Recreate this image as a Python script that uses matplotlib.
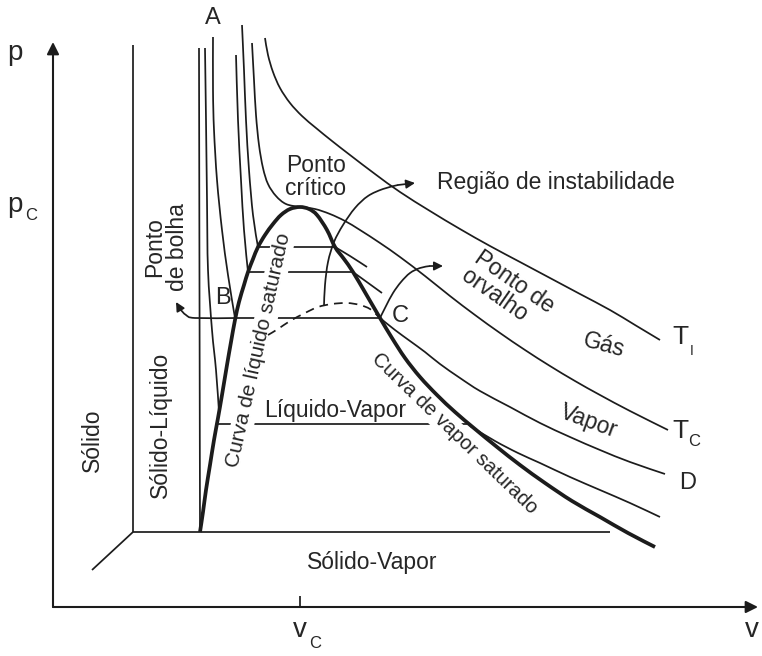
import matplotlib
matplotlib.use("Agg")
import matplotlib.pyplot as plt
import numpy as np
from matplotlib.path import Path
from matplotlib.patches import PathPatch

plt.rcParams['font.family'] = ['Liberation Sans', 'DejaVu Sans']

# ---------------- data (pixel-space schematic, y downward) ----------------
dome_x = [200, 203, 206, 210, 214, 218, 222, 227, 231, 235, 239, 244, 248, 253, 258, 265, 273, 281, 290, 300,
          309, 317, 327, 335, 344, 353, 366, 380, 392, 405, 420, 437, 455, 475, 497, 520, 545, 572, 600, 628, 655]
dome_y = [532, 512, 490, 465, 440, 418, 395, 365, 342, 320, 302, 285, 272, 259, 247, 235, 224, 215, 209, 207,
          209, 215, 230, 247, 259, 272, 294, 318, 338, 358, 377, 395, 412, 429, 447, 465, 483, 501, 517, 533, 547]

ti_x = [265, 268, 273, 280, 290, 302, 316, 332, 350, 375, 400, 430, 460, 490, 520, 550, 580, 610, 635, 660]
ti_y = [38, 55, 72, 88, 103, 116, 128, 141, 155, 174, 192, 211, 229, 246, 262, 278, 294, 310, 325, 340]

tc_x = [252, 254, 256, 259, 263, 268, 276, 286, 300, 315, 330, 345, 360, 380, 400, 425, 450, 475, 500, 525,
        550, 575, 600, 630, 668]
tc_y = [43, 80, 115, 145, 168, 184, 196, 204, 207, 209, 214, 221, 230, 243, 257, 276, 296, 315, 333, 350,
        366, 381, 395, 411, 430]

# isotherm with tie line at p ~ 247
i247_liq_x = [242, 244, 246, 249, 253, 258]
i247_liq_y = [25, 70, 120, 170, 215, 247]
i247_tie_x = [258, 335]
i247_tie_y = [247, 247]
i247_vap_x = [335, 350, 367]
i247_vap_y = [247, 256, 267]

# isotherm with tie line at p ~ 272
i272_liq_x = [236, 238, 241, 244, 248]
i272_liq_y = [55, 120, 180, 230, 272]
i272_tie_x = [248, 353]
i272_tie_y = [272, 272]
i272_vap_x = [353, 382]
i272_vap_y = [272, 293]

# isotherm B - C - D
ibc_liq_x = [213, 213, 214, 217, 222, 228, 235]
ibc_liq_y = [37, 90, 130, 180, 230, 275, 318]
ibc_tie_x = [235, 380]
ibc_tie_y = [318, 318]
ibc_vap_x = [380, 395, 410, 425, 440, 460, 480, 510, 540, 570, 600, 630, 665]
ibc_vap_y = [318, 330, 341, 352, 364, 378, 391, 407, 423, 437, 450, 462, 474]

# lowest isotherm (Liquido-Vapor)
ilv_liq_x = [205, 206, 207, 208, 212, 216, 219]
ilv_liq_y = [48, 120, 200, 270, 330, 370, 412]
ilv_tie_x = [217, 467]
ilv_tie_y = [424, 424]
ilv_vap_x = [470, 495, 518, 540, 570, 600, 630, 660]
ilv_vap_y = [426, 441, 453, 463, 477, 490, 503, 517]

# solid boundaries
sl_x = [199, 200]
sl_y = [48, 532]
solid_left_x = [133, 133]
solid_left_y = [45, 532]
solid_base_x = [133, 610]
solid_base_y = [532, 532]
solid_diag_x = [133, 92]
solid_diag_y = [532, 570]

# instability (spinodal) dashed curve
spin_x = [268, 278, 290, 305, 318, 332, 347, 360, 370, 378]
spin_y = [335, 329, 321, 313, 307, 304, 303, 305, 309, 316]

# pointer arrows
arr_inst_x = [324, 325, 328, 334, 343, 355, 368, 383, 398, 415]
arr_inst_y = [306, 285, 262, 242, 225, 208, 196, 189, 185, 183]
arr_orv_x = [380, 386, 393, 401, 410, 420, 430, 443]
arr_orv_y = [318, 306, 293, 282, 273, 268, 266, 266]
arr_bol_x = [237, 195, 186, 180, 176]
arr_bol_y = [318, 318, 315, 309, 302]

# axes
axis_origin = (53, 607)
axis_ytip = (53, 42)
axis_xtip = (758, 607)
vc_tick_x = [300, 300]
vc_tick_y = [596, 607]

# ---------------- figure ----------------
fig = plt.figure(figsize=(7.62, 6.56), dpi=100)
ax = fig.add_axes([0, 0, 1, 1])
ax.set_xlim(0, 762)
ax.set_ylim(656, 0)
ax.axis('off')

K = '#1c1c1c'
thin = 1.25


def smooth(xs, ys, lw=thin, z=3, ls='-', capstyle='butt'):
    """Draw a smooth curve through the given points (Catmull-Rom as cubic Bezier)."""
    P = np.column_stack([xs, ys]).astype(float)
    n = len(P)
    if n == 2:
        verts = [P[0], P[1]]
        codes = [Path.MOVETO, Path.LINETO]
    else:
        verts = [P[0]]
        codes = [Path.MOVETO]
        for i in range(n - 1):
            p0 = P[i - 1] if i > 0 else P[i]
            p1 = P[i]
            p2 = P[i + 1]
            p3 = P[i + 2] if i + 2 < n else P[i + 1]
            c1 = p1 + (p2 - p0) / 6.0
            c2 = p2 - (p3 - p1) / 6.0
            verts += [c1, c2, p2]
            codes += [Path.CURVE4] * 3
    patch = PathPatch(Path(verts, codes), facecolor='none', edgecolor=K, lw=lw,
                      ls=ls, zorder=z, capstyle=capstyle, joinstyle='round')
    ax.add_patch(patch)


# tie lines (interrupted by text boxes)
for tx, ty in [(i247_tie_x, i247_tie_y), (i272_tie_x, i272_tie_y),
               (ibc_tie_x, ibc_tie_y), (ilv_tie_x, ilv_tie_y)]:
    smooth(tx, ty, z=1)

for lx, ly in [(ti_x, ti_y), (tc_x, tc_y),
               (i247_liq_x, i247_liq_y), (i247_vap_x, i247_vap_y),
               (i272_liq_x, i272_liq_y), (i272_vap_x, i272_vap_y),
               (ibc_liq_x, ibc_liq_y), (ibc_vap_x, ibc_vap_y),
               (ilv_liq_x, ilv_liq_y), (ilv_vap_x, ilv_vap_y),
               (sl_x, sl_y), (solid_left_x, solid_left_y),
               (solid_base_x, solid_base_y), (solid_diag_x, solid_diag_y),
               (vc_tick_x, vc_tick_y)]:
    smooth(lx, ly)

smooth(spin_x, spin_y, ls=(0, (5, 3.5)))

# saturation dome
smooth(dome_x, dome_y, lw=2.7, z=5)

# pointer arrows
for axx, ayy in [(arr_inst_x, arr_inst_y), (arr_orv_x, arr_orv_y), (arr_bol_x, arr_bol_y)]:
    smooth(axx[:-1], ayy[:-1])
    ax.annotate('', xy=(axx[-1], ayy[-1]), xytext=(axx[-2], ayy[-2]),
                arrowprops=dict(arrowstyle='-|>', color=K, lw=thin, mutation_scale=13,
                                shrinkA=0, shrinkB=0), zorder=3)

# coordinate axes
ax.annotate('', xy=axis_ytip, xytext=axis_origin,
            arrowprops=dict(arrowstyle='-|>', color=K, lw=1.5, mutation_scale=18, shrinkA=0, shrinkB=0))
ax.annotate('', xy=axis_xtip, xytext=axis_origin,
            arrowprops=dict(arrowstyle='-|>', color=K, lw=1.5, mutation_scale=18, shrinkA=0, shrinkB=0))

# ---------------- texts ----------------
TC = '#262626'
fs = 16.5
white = dict(facecolor='white', edgecolor='none', pad=1.5)

ax.text(15, 53, 'p', fontsize=20, color=TC, ha='center', va='center')
ax.text(15, 205, 'p', fontsize=20, color=TC, ha='center', va='center')
ax.text(31, 216, 'C', fontsize=12, color=TC, ha='center', va='center')
ax.text(752, 630, 'v', fontsize=20, color=TC, ha='center', va='center')
ax.text(300, 630, 'v', fontsize=20, color=TC, ha='center', va='center')
ax.text(315, 644, 'C', fontsize=12, color=TC, ha='center', va='center')

ax.text(213, 18, 'A', fontsize=17, color=TC, ha='center', va='center')
ax.text(223, 298, 'B', fontsize=17, color=TC, ha='center', va='center')
ax.text(400, 316, 'C', fontsize=17, color=TC, ha='center', va='center')
ax.text(688, 483, 'D', fontsize=17, color=TC, ha='center', va='center')
ax.text(680, 337, 'T', fontsize=19, color=TC, ha='center', va='center')
ax.text(692, 351, 'I', fontsize=10, color=TC, ha='center', va='center')
ax.text(680, 431, 'T', fontsize=19, color=TC, ha='center', va='center')
ax.text(694, 442, 'C', fontsize=12, color=TC, ha='center', va='center')

ax.text(316, 177, 'Ponto\ncrítico', fontsize=fs, color=TC, ha='center', va='center', linespacing=0.95)
ax.text(437, 182, 'Região de instabilidade', fontsize=fs, color=TC, ha='left', va='center')
ax.text(166, 247, 'Ponto\nde bolha', fontsize=fs, color=TC, ha='center', va='center',
        rotation=90, linespacing=0.95)
ax.text(508, 291, 'Ponto de\norvalho', fontsize=fs, color=TC, ha='center', va='center',
        rotation=-35, linespacing=0.95, multialignment='left', rotation_mode='anchor')
ax.text(604, 345, 'Gás', fontsize=fs, color=TC, ha='center', va='center', rotation=-15)
ax.text(589, 421, 'Vapor', fontsize=fs, color=TC, ha='center', va='center', rotation=-20)
ax.text(92, 440, 'Sólido', fontsize=fs, color=TC, ha='center', va='center', rotation=90)
ax.text(160, 425, 'Sólido-Líquido', fontsize=fs, color=TC, ha='center', va='center', rotation=90)
ax.text(335, 410, 'Líquido-Vapor', fontsize=fs, color=TC, ha='center', va='center')
ax.text(372, 563, 'Sólido-Vapor', fontsize=fs, color=TC, ha='center', va='center')
ax.text(259, 350, 'Curva de líquido saturado', fontsize=15, color=TC, ha='center', va='center',
        rotation=77.5, rotation_mode='anchor', bbox=white, zorder=2)
ax.text(455, 433, 'Curva de vapor saturado', fontsize=14.5, color=TC, ha='center', va='center',
        rotation=-44, rotation_mode='anchor', bbox=white, zorder=2)

fig.savefig('out.png', dpi=100, facecolor='white')
